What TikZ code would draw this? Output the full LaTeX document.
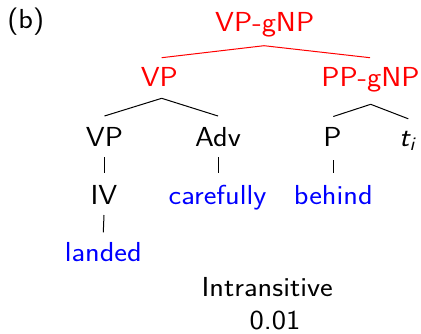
\documentclass[tikz,border=0pt]{standalone}
\usepackage{fix-cm}
\usepackage{fontspec}
\setsansfont[FakeStretch=1.1]{Latin Modern Sans}
\begin{document}
\begin{tikzpicture}[x=1pt,y=-1pt,
  lbl/.style={anchor=base,inner sep=0pt,
    font=\sffamily\fontsize{27.5}{33}\selectfont},
  redlbl/.style={lbl,text=red},
  bluelbl/.style={lbl,text=blue},
  rededge/.style={draw=red,line width=1pt},
  blkedge/.style={draw=black,line width=1pt}]
\useasboundingbox (0,0) rectangle (421,333);
\node[lbl] (b) at (25.8,28.3) {(b)};
\node[redlbl] (top) at (264.7,31.7) {VP-gNP};
\node[redlbl] (vpr) at (159.3,86.7) {VP};
\node[redlbl] (ppg) at (370.5,86.7) {PP-gNP};
\node[lbl] (vp) at (104.5,146.5) {VP};
\node[lbl] (adv) at (218,146.5) {Adv};
\node[lbl] (p) at (332.5,146.5) {P};
\node[lbl] (t) at (407,146.5) {{\itshape t}\textsubscript{\itshape i}};
\node[lbl] (iv) at (104,204.3) {IV};
\node[bluelbl] (care) at (217.5,204.3) {carefully};
\node[bluelbl] (beh) at (333.3,204.3) {behind};
\node[bluelbl] (land) at (103.3,261.7) {landed};
\node[lbl] (intr) at (267.2,296.7) {Intransitive};
\node[lbl] (num) at (275,329) {0.01};
% red edges
\draw[rededge] ([xshift=-0.7pt,yshift=-14pt]top.base) -- ([xshift=2.4pt,yshift=29pt]vpr.base);
\draw[rededge] ([xshift=-0.7pt,yshift=-14pt]top.base) -- ([xshift=-0.5pt,yshift=29pt]ppg.base);
% black edges
\draw[blkedge] ([xshift=2.4pt,yshift=-11.6pt]vpr.base) -- ([yshift=30.5pt]vp.base);
\draw[blkedge] ([xshift=2.4pt,yshift=-11.6pt]vpr.base) -- ([yshift=30.5pt]adv.base);
\draw[blkedge] ([xshift=0.2pt,yshift=-17.6pt]ppg.base) -- ([xshift=0.8pt,yshift=30pt]p.base);
\draw[blkedge] ([xshift=0.2pt,yshift=-17.6pt]ppg.base) -- ([xshift=1.3pt,yshift=27.7pt]t.base);
\draw[blkedge] ([xshift=-0.5pt,yshift=-10.8pt]vp.base) -- ([yshift=31pt]iv.base);
\draw[blkedge] ([yshift=-10.8pt]adv.base) -- ([xshift=0.5pt,yshift=31pt]care.base);
\draw[blkedge] ([xshift=0.8pt,yshift=-13.5pt]p.base) -- ([yshift=31pt]beh.base);
\draw[blkedge] ([yshift=-10.7pt]iv.base) -- ([yshift=29.4pt]land.base);
\end{tikzpicture}
\end{document}
